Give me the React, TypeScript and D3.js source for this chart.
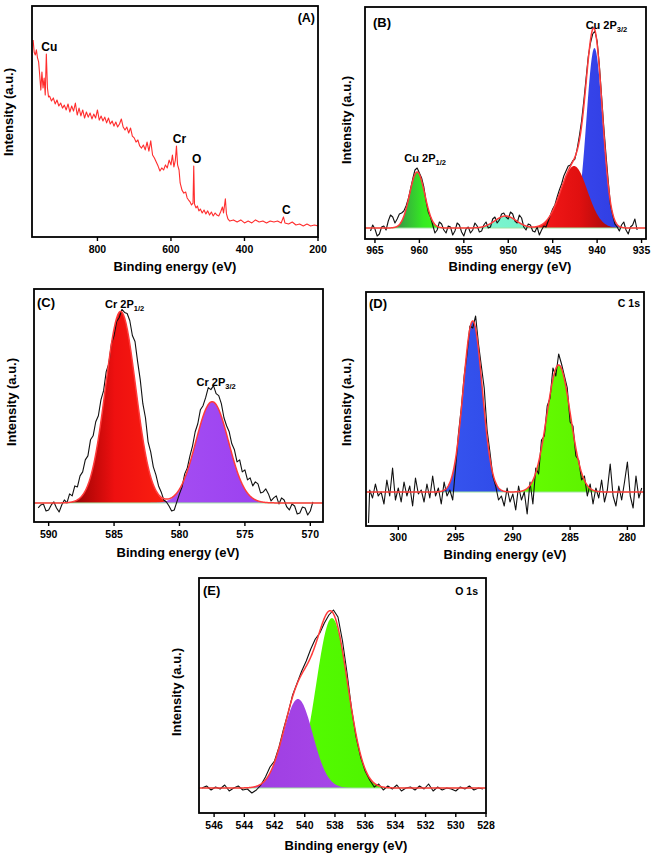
import React from 'react';
import * as d3 from 'd3';

const FONT = "'Liberation Sans', Arial, Helvetica, sans-serif";

// ---------- (A) survey spectrum ----------
const surveyEnergy = [
  975, 972, 969, 966, 963, 960, 957, 954, 951, 948,
  945, 942, 939, 936, 933, 930, 925, 920, 915, 910,
  905, 900, 895, 890, 885, 880, 875, 870, 865, 860,
  855, 850, 845, 840, 835, 830, 825, 820, 815, 810,
  805, 800, 795, 790, 785, 780, 775, 770, 765, 760,
  755, 750, 745, 740, 735, 730, 725, 720, 715, 710,
  705, 700, 695, 690, 685, 680, 675, 670, 665, 660,
  655, 650, 645, 640, 635, 630, 625, 620, 615, 610,
  605, 600, 596, 592, 588, 585, 582, 578, 575, 570,
  565, 560, 556, 552, 548, 544, 540, 538, 536, 532,
  528, 524, 520, 515, 510, 505, 500, 495, 490, 485,
  480, 475, 470, 465, 460, 457, 452, 449, 445, 440,
  430, 420, 410, 400, 390, 380, 370, 360, 350, 340,
  330, 320, 310, 300, 294, 290, 280, 270, 260, 250,
  240, 230, 220, 210, 200,
];
const surveyIntensity = [
  85.3, 80, 78.8, 81, 77.5, 75.8, 70, 63.6, 71.4, 64.5,
  68.8, 61.5, 79.2, 64.5, 60.6, 61, 58.9, 60.2, 57.6, 59.3,
  56.7, 58, 55.8, 57.1, 55, 57.6, 54.1, 56.7, 54.5, 58,
  52.8, 55.8, 52.4, 55, 51.5, 54.1, 51.9, 53.7, 51.1, 53.2,
  51.5, 55, 50.6, 52.4, 50.2, 51.9, 49.4, 51.5, 48.9, 50.2,
  48, 49.8, 47.6, 48.9, 51.1, 47.6, 46.3, 47.6, 45, 47.2,
  43.7, 42.9, 41.1, 42, 39.4, 38.5, 39.8, 37.7, 41.1, 37.2,
  41.6, 35.5, 34.2, 32.5, 30.7, 28.6, 29.9, 29, 31.2, 29.9,
  33.3, 31.2, 35.5, 30.3, 33.3, 39.4, 31.2, 29, 23.4, 20.3,
  19, 19.5, 16.9, 16, 15.2, 13.9, 14.7, 30.7, 14.3, 12.6,
  13.4, 11.3, 12.1, 10.4, 11.7, 10, 11.3, 9.5, 10.8, 9.1,
  10.4, 9.5, 9.1, 10.8, 13, 10.4, 16.5, 10, 7.8, 6.9,
  7.4, 6.5, 7.4, 6.1, 6.9, 6.1, 7.4, 6.5, 6.9, 6.1,
  6.9, 6.5, 6.9, 6.1, 8.7, 6.1, 5.6, 6.5, 5.2, 5.6,
  4.8, 5.6, 4.8, 5.2, 4.8,
];
const surveyPeakNames = ['Cu', 'Cr', 'O', 'C'];
const surveyPeakEnergy = [939, 585, 538, 294];
const surveyTicks = [800, 600, 400, 200];

// ---------- (B) Cu 2p ----------
const cuEnergy = [
  965.5, 965.25, 965.0, 964.75, 964.5, 964.25, 964.0, 963.75, 963.5, 963.25,
  963.0, 962.75, 962.5, 962.25, 962.0, 961.75, 961.5, 961.25, 961.0, 960.75,
  960.5, 960.25, 960.0, 959.75, 959.5, 959.25, 959.0, 958.75, 958.5, 958.25,
  958.0, 957.75, 957.5, 957.25, 957.0, 956.75, 956.5, 956.25, 956.0, 955.75,
  955.5, 955.25, 955.0, 954.75, 954.5, 954.25, 954.0, 953.75, 953.5, 953.25,
  953.0, 952.75, 952.5, 952.25, 952.0, 951.75, 951.5, 951.25, 951.0, 950.75,
  950.5, 950.25, 950.0, 949.75, 949.5, 949.25, 949.0, 948.75, 948.5, 948.25,
  948.0, 947.75, 947.5, 947.25, 947.0, 946.75, 946.5, 946.25, 946.0, 945.75,
  945.5, 945.25, 945.0, 944.75, 944.5, 944.25, 944.0, 943.75, 943.5, 943.25,
  943.0, 942.75, 942.5, 942.25, 942.0, 941.75, 941.5, 941.25, 941.0, 940.75,
  940.5, 940.25, 940.0, 939.75, 939.5, 939.25, 939.0, 938.75, 938.5, 938.25,
  938.0, 937.75, 937.5, 937.25, 937.0, 936.75, 936.5, 936.25, 936.0, 935.75,
  935.5,
];
const cuIntensity = [
  8, 14, 10, 3, 5, 12, 13, 9, 18, 24,
  22, 16, 20, 25, 26, 28, 33, 40, 50, 60,
  69, 71, 66, 61, 52, 38, 27, 22, 14, 6,
  9, 17, 15, 9, 6, 13, 12, 4, 8, 16,
  14, 7, 3, 10, 12, 6, 9, 16, 13, 7,
  8, 14, 17, 11, 12, 20, 22, 16, 19, 25,
  26, 22, 20, 27, 25, 18, 16, 24, 21, 12,
  9, 15, 14, 8, 7, 12, 4, 9, 13, 12,
  18, 24, 30, 34, 42, 49, 55, 63, 68, 73,
  74, 78, 80, 90, 103, 118, 138, 160, 182, 196,
  205, 208, 198, 174, 143, 112, 84, 58, 34, 24,
  15, 12, 8, 14, 17, 9, 5, 12, 14, 20,
  9,
];
const cuBaseline = 11;
const cuPeakCenter = [960.25, 950.3, 940.3, 942.6];
const cuPeakHeight = [56, 12, 180, 62];
const cuPeakWidth = [0.85, 1.2, 0.9, 1.5];
const cuTicks = [965, 960, 955, 950, 945, 940, 935];

// ---------- (C) Cr 2p ----------
const crEnergy = [
  590.8, 590.6, 590.4, 590.2, 590.0, 589.8, 589.6, 589.4, 589.2, 589.0,
  588.8, 588.6, 588.4, 588.2, 588.0, 587.8, 587.6, 587.4, 587.2, 587.0,
  586.8, 586.6, 586.4, 586.2, 586.0, 585.8, 585.6, 585.4, 585.2, 585.0,
  584.8, 584.6, 584.4, 584.2, 584.0, 583.8, 583.6, 583.4, 583.2, 583.0,
  582.8, 582.6, 582.4, 582.2, 582.0, 581.8, 581.6, 581.4, 581.2, 581.0,
  580.8, 580.6, 580.4, 580.2, 580.0, 579.8, 579.6, 579.4, 579.2, 579.0,
  578.8, 578.6, 578.4, 578.2, 578.0, 577.8, 577.6, 577.4, 577.2, 577.0,
  576.8, 576.6, 576.4, 576.2, 576.0, 575.8, 575.6, 575.4, 575.2, 575.0,
  574.8, 574.6, 574.4, 574.2, 574.0, 573.8, 573.6, 573.4, 573.2, 573.0,
  572.8, 572.6, 572.4, 572.2, 572.0, 571.8, 571.6, 571.4, 571.2, 571.0,
  570.8, 570.6, 570.4, 570.2, 570.0, 569.8,
];
const crIntensity = [
  14, 17, 18, 11, 12, 17, 20, 14, 10, 17,
  22, 19, 28, 26, 36, 35, 46, 50, 62, 66,
  82, 86, 100, 106, 122, 131, 150, 158, 178, 186,
  200, 204, 212, 209, 208, 201, 186, 180, 160, 142,
  118, 104, 80, 70, 55, 47, 36, 30, 22, 20,
  16, 11, 12, 20, 28, 35, 48, 54, 66, 76,
  90, 98, 112, 116, 124, 134, 132, 136, 128, 126,
  118, 104, 96, 90, 78, 72, 60, 62, 50, 52,
  42, 44, 36, 40, 38, 29, 30, 33, 28, 21,
  24, 26, 18, 24, 22, 15, 12, 18, 16, 8,
  9, 15, 14, 7, 11, 20,
];
const crBaseline = 19;
const crPeakCenter = [584.5, 577.5];
const crPeakHeight = [191, 101];
const crPeakWidth = [1.15, 1.25];
const crTicks = [590, 585, 580, 575, 570];

// ---------- (D) C 1s ----------
const cEnergy = [
  302.6, 302.5, 302.25, 302.0, 301.75, 301.5, 301.25, 301.0, 300.75, 300.5,
  300.25, 300.0, 299.75, 299.5, 299.25, 299.0, 298.75, 298.5, 298.25, 298.0,
  297.75, 297.5, 297.25, 297.0, 296.75, 296.5, 296.25, 296.0, 295.75, 295.5,
  295.25, 295.0, 294.75, 294.5, 294.25, 294.0, 293.75, 293.5, 293.25, 293.0,
  292.75, 292.5, 292.25, 292.0, 291.75, 291.5, 291.25, 291.0, 290.75, 290.5,
  290.25, 290.0, 289.75, 289.5, 289.25, 289.0, 288.75, 288.5, 288.25, 288.0,
  287.75, 287.5, 287.25, 287.0, 286.75, 286.5, 286.25, 286.0, 285.75, 285.5,
  285.25, 285.0, 284.75, 284.5, 284.25, 284.0, 283.75, 283.5, 283.25, 283.0,
  282.75, 282.5, 282.25, 282.0, 281.75, 281.5, 281.25, 281.0, 280.75, 280.5,
  280.25, 280.0, 279.75, 279.5, 279.25, 279.0, 278.75,
];
const cIntensity = [
  3, 36, 28, 42, 30, 34, 22, 46, 30, 58,
  26, 38, 24, 44, 30, 40, 20, 48, 32, 36,
  24, 42, 28, 50, 30, 38, 22, 44, 30, 36,
  26, 58, 92, 118, 150, 172, 200, 198, 210, 182,
  160, 138, 96, 74, 50, 40, 26, 30, 20, 38,
  24, 32, 16, 40, 26, 34, 12, 44, 22, 58,
  52, 86, 90, 120, 128, 158, 150, 172, 162, 150,
  138, 104, 100, 70, 66, 46, 50, 30, 42, 22,
  38, 28, 46, 24, 36, 62, 30, 20, 40, 26,
  44, 64, 30, 18, 50, 28, 38,
];
const cBaseline = 34;
const cPeakCenter = [293.5, 286.0];
const cPeakHeight = [171, 127];
const cPeakWidth = [0.83, 1.03];
const cTicks = [300, 295, 290, 285, 280];

// ---------- (E) O 1s ----------
const oEnergy = [
  546.8, 546.5, 546.2, 545.9, 545.6, 545.3, 545.0, 544.7, 544.4, 544.1,
  543.8, 543.5, 543.2, 542.9, 542.6, 542.3, 542.0, 541.7, 541.4, 541.1,
  540.8, 540.5, 540.2, 539.9, 539.6, 539.3, 539.0, 538.7, 538.4, 538.1,
  537.8, 537.5, 537.2, 536.9, 536.6, 536.3, 536.0, 535.7, 535.4, 535.1,
  534.8, 534.5, 534.2, 533.9, 533.6, 533.3, 533.0, 532.7, 532.4, 532.1,
  531.8, 531.5, 531.2, 530.9, 530.6, 530.3, 530.0, 529.7, 529.4, 529.1,
  528.8, 528.5, 528.2,
];
const oIntensity = [
  25, 27, 23, 26, 24, 28, 22, 25, 27, 23,
  24, 20, 23, 28, 36, 46, 52, 66, 84, 100,
  118, 130, 142, 152, 164, 174, 180, 190, 198, 203,
  196, 172, 140, 104, 76, 56, 42, 33, 26, 29,
  23, 27, 24, 28, 22, 25, 26, 23, 27, 24,
  29, 22, 26, 23, 25, 24, 22, 26, 24, 27,
  23, 25, 24,
];
const oBaseline = 25;
const oPeakCenter = [538.2, 540.45];
const oPeakHeight = [170, 89];
const oPeakWidth = [1.05, 0.98];
const oTicks = [546, 544, 542, 540, 538, 536, 534, 532, 530, 528];

type Stop = [string, string];
type Comp = { c: number; h: number; s: number; stops: Stop[] };

const gauss = (e: number, c: Comp) => c.h * Math.exp(-((e - c.c) ** 2) / (2 * c.s * c.s));

type PanelProps = {
  id: string;
  box: [number, number, number, number];
  xDomain: [number, number];
  yMax: number;
  ticks: number[];
  tickY: number;
  titleX: number;
  titleY: number;
  yTitleX: number;
  yTitleY: number;
  energy: number[];
  intensity: number[];
  lineColor: string;
  baseline?: number;
  comps?: Comp[];
  annotate?: (x: d3.ScaleLinear<number, number>, y: d3.ScaleLinear<number, number>) => React.ReactNode;
};

function Panel(p: PanelProps) {
  const [x0, y0, x1, y1] = p.box;
  const x = d3.scaleLinear().domain(p.xDomain).range([x0, x1]);
  const y = d3.scaleLinear().domain([0, p.yMax]).range([y1, y0]);
  const n = Math.min(p.energy.length, p.intensity.length);
  const rawLine = d3
    .line<number>()
    .x((i) => x(p.energy[i]))
    .y((i) => y(p.intensity[i]))(d3.range(n));

  const comps = p.comps || [];
  const base = p.baseline ?? 0;
  const lo = Math.min(...p.xDomain);
  const hi = Math.max(...p.xDomain);
  const grid = d3.range(lo, hi, 0.02);
  const fitLine = comps.length
    ? d3
        .line<number>()
        .x((e) => x(e))
        .y((e) => y(base + d3.sum(comps, (c) => gauss(e, c))))(grid)
    : null;

  return (
    <g>
      <defs>
        <clipPath id={`clip-${p.id}`}>
          <rect x={x0} y={y0} width={x1 - x0} height={y1 - y0} />
        </clipPath>
        {comps.map((c, i) => (
          <linearGradient key={i} id={`grad-${p.id}-${i}`} x1="0" x2="1" y1="0" y2="0">
            {c.stops.map(([o, col], j) => (
              <stop key={j} offset={o} stopColor={col} />
            ))}
          </linearGradient>
        ))}
      </defs>
      <g clipPath={`url(#clip-${p.id})`}>
        {comps.map((c, i) => {
          const pts = d3.range(c.c - 4 * c.s, c.c + 4 * c.s, c.s / 25);
          const area = d3
            .area<number>()
            .x((e) => x(e))
            .y0(y(base))
            .y1((e) => y(base + gauss(e, c)))(pts);
          return <path key={i} d={area || ''} fill={`url(#grad-${p.id}-${i})`} stroke="none" />;
        })}
        {comps.length > 0 && (
          <line x1={x0} x2={x1} y1={y(base)} y2={y(base)} stroke="#9fe3a0" strokeWidth={1} />
        )}
        <path d={rawLine || ''} fill="none" stroke={p.lineColor} strokeWidth={1.1} strokeLinejoin="round" />
        {fitLine && <path d={fitLine} fill="none" stroke="#ff3b3b" strokeWidth={1.5} />}
      </g>
      <rect x={x0} y={y0} width={x1 - x0} height={y1 - y0} fill="none" stroke="#000" strokeWidth={1.8} />
      {p.ticks.map((t) => (
        <g key={t}>
          <line x1={x(t)} x2={x(t)} y1={y1} y2={y1 + 4} stroke="#000" strokeWidth={1.4} />
          <text x={x(t)} y={p.tickY} textAnchor="middle" fontSize={10.5} fontWeight="bold">
            {t}
          </text>
        </g>
      ))}
      <text x={p.titleX} y={p.titleY} textAnchor="middle" fontSize={13} fontWeight="bold">
        Binding energy (eV)
      </text>
      <text
        transform={`translate(${p.yTitleX},${p.yTitleY}) rotate(-90)`}
        textAnchor="middle"
        fontSize={13}
        fontWeight="bold"
      >
        Intensity (a.u.)
      </text>
      {p.annotate && p.annotate(x, y)}
    </g>
  );
}

export default function App() {
  const cuComps: Comp[] = [
    { c: cuPeakCenter[0], h: cuPeakHeight[0], s: cuPeakWidth[0], stops: [['0', '#4d6a52'], ['0.3', '#36b23c'], ['0.6', '#35ea22'], ['1', '#44ff12']] },
    { c: cuPeakCenter[1], h: cuPeakHeight[1], s: cuPeakWidth[1], stops: [['0', '#80f7d2'], ['1', '#70f0c8']] },
    { c: cuPeakCenter[2], h: cuPeakHeight[2], s: cuPeakWidth[2], stops: [['0', '#3a48f0'], ['1', '#2f3de0']] },
    { c: cuPeakCenter[3], h: cuPeakHeight[3], s: cuPeakWidth[3], stops: [['0', '#ff1c1c'], ['0.55', '#e01010'], ['1', '#8a0808']] },
  ];
  const crComps: Comp[] = [
    { c: crPeakCenter[0], h: crPeakHeight[0], s: crPeakWidth[0], stops: [['0', '#6e0000'], ['0.2', '#b00606'], ['0.45', '#ee1010'], ['1', '#ff2410']] },
    { c: crPeakCenter[1], h: crPeakHeight[1], s: crPeakWidth[1], stops: [['0', '#a650f2'], ['1', '#9a3ff0']] },
  ];
  const cComps: Comp[] = [
    { c: cPeakCenter[0], h: cPeakHeight[0], s: cPeakWidth[0], stops: [['0', '#3756f0'], ['1', '#2f4ae8']] },
    { c: cPeakCenter[1], h: cPeakHeight[1], s: cPeakWidth[1], stops: [['0', '#66ff00'], ['1', '#5cf000']] },
  ];
  const oComps: Comp[] = [
    { c: oPeakCenter[0], h: oPeakHeight[0], s: oPeakWidth[0], stops: [['0', '#55ff00'], ['1', '#4ef200']] },
    { c: oPeakCenter[1], h: oPeakHeight[1], s: oPeakWidth[1], stops: [['0', '#9d3de2'], ['1', '#a848e8']] },
  ];

  return (
    <svg
      width={661}
      height={858}
      style={{ position: 'absolute', left: 0, top: 0, background: '#fff' }}
      fontFamily={FONT}
    >
      <rect x={0} y={0} width={661} height={858} fill="#fff" />
      <Panel
        id="A"
        box={[32, 6, 318, 237]}
        xDomain={[978, 200]}
        yMax={100}
        ticks={surveyTicks}
        tickY={253}
        titleX={175}
        titleY={271}
        yTitleX={13}
        yTitleY={112}
        energy={surveyEnergy}
        intensity={surveyIntensity}
        lineColor="#ff2d2d"
        annotate={(x, y) => (
          <g>
            <text x={315} y={22} textAnchor="end" fontSize={12.5} fontWeight="bold">(A)</text>
            {surveyPeakNames.map((name, i) => {
              const k = surveyEnergy.indexOf(surveyPeakEnergy[i]);
              return (
                <text key={name} x={x(surveyPeakEnergy[i]) + 3} y={y(surveyIntensity[k]) - 3} textAnchor="middle" fontSize={12} fontWeight="bold">
                  {name}
                </text>
              );
            })}
          </g>
        )}
      />
      <Panel
        id="B"
        box={[365, 7, 646, 239]}
        xDomain={[966.12, 934.5]}
        yMax={232}
        ticks={cuTicks}
        tickY={254}
        titleX={510}
        titleY={271}
        yTitleX={351}
        yTitleY={120}
        energy={cuEnergy}
        intensity={cuIntensity}
        lineColor="#111"
        baseline={cuBaseline}
        comps={cuComps}
        annotate={(x, y) => (
          <g>
            <text x={373} y={27} fontSize={13} fontWeight="bold">(B)</text>
            <text x={x(cuPeakCenter[0]) + 8} y={y(cuBaseline + cuPeakHeight[0]) - 10} textAnchor="middle" fontSize={11} fontWeight="bold">
              Cu 2P<tspan fontSize={7.5} dy={3}>1/2</tspan>
            </text>
            <text x={x(cuPeakCenter[2]) + 12} y={29} textAnchor="middle" fontSize={11} fontWeight="bold">
              Cu 2P<tspan fontSize={7.5} dy={3}>3/2</tspan>
            </text>
          </g>
        )}
      />
      <Panel
        id="C"
        box={[34, 289, 323, 522]}
        xDomain={[591.12, 569.03]}
        yMax={232.4}
        ticks={crTicks}
        tickY={538}
        titleX={178}
        titleY={557}
        yTitleX={16}
        yTitleY={402}
        energy={crEnergy}
        intensity={crIntensity}
        lineColor="#111"
        baseline={crBaseline}
        comps={crComps}
        annotate={(x, y) => (
          <g>
            <text x={37} y={307} fontSize={13} fontWeight="bold">(C)</text>
            <text x={x(crPeakCenter[0]) + 4} y={308} textAnchor="middle" fontSize={11} fontWeight="bold">
              Cr 2P<tspan fontSize={7.5} dy={3}>1/2</tspan>
            </text>
            <text x={x(crPeakCenter[1]) + 4} y={y(crBaseline + crPeakHeight[1]) - 16} textAnchor="middle" fontSize={11} fontWeight="bold">
              Cr 2P<tspan fontSize={7.5} dy={3}>3/2</tspan>
            </text>
          </g>
        )}
      />
      <Panel
        id="D"
        box={[366, 292, 644, 526]}
        xDomain={[302.82, 278.55]}
        yMax={234}
        ticks={cTicks}
        tickY={541}
        titleX={505}
        titleY={559}
        yTitleX={351}
        yTitleY={402}
        energy={cEnergy}
        intensity={cIntensity}
        lineColor="#111"
        baseline={cBaseline}
        comps={cComps}
        annotate={() => (
          <g>
            <text x={369} y={308} fontSize={13} fontWeight="bold">(D)</text>
            <text x={640} y={307} textAnchor="end" fontSize={10.5} fontWeight="bold">C 1s</text>
          </g>
        )}
      />
      <Panel
        id="E"
        box={[199, 578, 486, 813]}
        xDomain={[547.0, 528.0]}
        yMax={235}
        ticks={oTicks}
        tickY={829}
        titleX={346}
        titleY={850}
        yTitleX={181}
        yTitleY={692}
        energy={oEnergy}
        intensity={oIntensity}
        lineColor="#111"
        baseline={oBaseline}
        comps={oComps}
        annotate={() => (
          <g>
            <text x={203} y={595} fontSize={13} fontWeight="bold">(E)</text>
            <text x={478} y={595} textAnchor="end" fontSize={10.5} fontWeight="bold">O 1s</text>
          </g>
        )}
      />
    </svg>
  );
}
